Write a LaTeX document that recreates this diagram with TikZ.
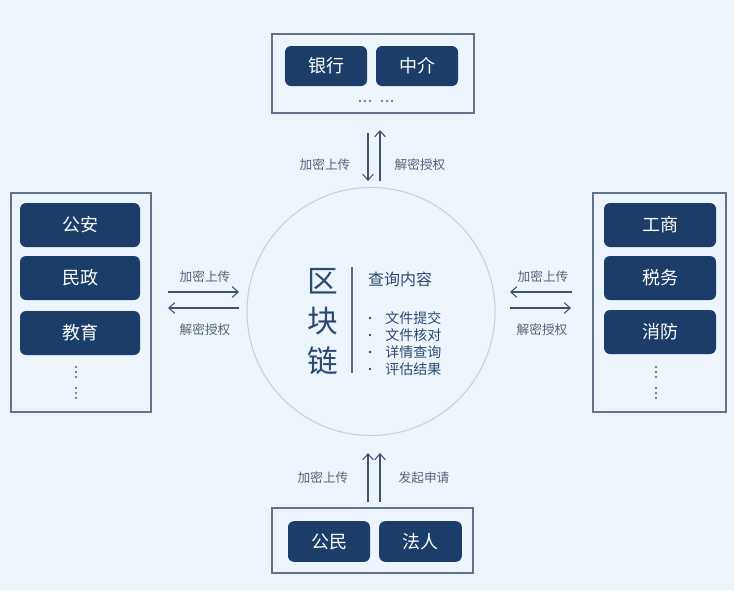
\documentclass[tikz,border=0pt]{standalone}
\usepackage{fontspec}
\setmainfont{Noto Sans CJK SC}
\usetikzlibrary{arrows.meta}
\definecolor{bgblue}{RGB}{238,244,251}
\definecolor{navy}{RGB}{26,61,105}
\definecolor{framegray}{RGB}{98,114,138}
\definecolor{arrowgray}{RGB}{62,82,112}
\definecolor{labelgray}{RGB}{84,100,124}
\definecolor{chainblue}{RGB}{42,74,114}
\definecolor{circlegray}{RGB}{202,207,216}

\tikzset{
  unit/.style={fill=navy, rounded corners=4.5pt, text=white, inner sep=0pt,
    font=\fontsize{13.5}{13.5}\selectfont},
  frame/.style={draw=framegray, line width=1.1pt},
  flow/.style={draw=arrowgray, line width=0.8pt, -{Straight Barb[length=4.5pt,width=8pt]}},
  tag/.style={text=labelgray, inner sep=0pt, font=\fontsize{9.5}{9.5}\selectfont},
  item/.style={text=chainblue, inner sep=0pt, anchor=west, font=\fontsize{10.5}{10.5}\selectfont},
  vdot/.style={fill=labelgray, draw=none},
}

\begin{document}
\begin{tikzpicture}[x=0.75pt,y=-0.75pt]
	\fill[bgblue] (0,0) rectangle (734,590);
	\useasboundingbox (0,0) rectangle (734,590);

	% top
	\draw[frame] (272,34) rectangle (474,113);
	\node[unit, minimum width=61.5pt, minimum height=30pt] (bank) at (326,66) {银行};
	\node[unit, minimum width=61.5pt, minimum height=30pt] (agency) at (417,66) {中介};
	\foreach \x in {360,365,370,382,387,392}
		\fill[vdot] (\x,101) circle (0.8pt);

	% left
	\draw[frame] (11,193) rectangle (151,412);
	\node[unit, minimum width=90pt, minimum height=33pt] (police) at (80,225) {公安};
	\node[unit, minimum width=90pt, minimum height=33pt] (civil) at (80,278) {民政};
	\node[unit, minimum width=90pt, minimum height=33pt] (edu) at (80,333) {教育};
	\foreach \y in {367,372,377,388,393,398}
		\fill[vdot] (76,\y) circle (0.9pt);

	% right
	\draw[frame] (593,193) rectangle (726,412);
	\node[unit, minimum width=84pt, minimum height=33pt] (biz) at (660,225) {工商};
	\node[unit, minimum width=84pt, minimum height=33pt] (tax) at (660,278) {税务};
	\node[unit, minimum width=84pt, minimum height=33pt] (fire) at (660,332) {消防};
	\foreach \y in {367,372,377,388,393,398}
		\fill[vdot] (656,\y) circle (0.9pt);

	% bottom
	\draw[frame] (272,508) rectangle (473,573);
	\node[unit, minimum width=61.5pt, minimum height=30.5pt] (citizen) at (329,541.5) {公民};
	\node[unit, minimum width=62pt, minimum height=30.5pt] (corp) at (420.5,541.5) {法人};

	% chain
	\node[circle, draw=circlegray, line width=0.8pt, minimum size=186pt, inner sep=0pt] (chain) at (371,311.5) {};
	\node[text=chainblue, font=\fontsize{23}{23}\selectfont] (qu) at (323,281) {区};
	\node[text=chainblue, font=\fontsize{23}{23}\selectfont] (kuai) at (323,321) {块};
	\node[text=chainblue, font=\fontsize{23}{23}\selectfont] (lian) at (323,361) {链};
	\coordinate (S) at (352,267);
	\coordinate (S') at (352,373);
	\draw[chainblue!80, line width=0.8pt] (S) -- (S');
	\node[text=chainblue, font=\fontsize{12}{12}\selectfont] (query) at (400,279) {查询内容};
	\foreach \t/\y in {文件提交/318,文件核对/335,详情查询/352,评估结果/369}{
		\fill[chainblue] (370,\y) circle (1.1pt);
		\node[item] at (385,\y) {\t};
	}

	% arrows
	\coordinate (T1) at (368,133);
	\coordinate (T1') at (368,181);
	\coordinate (T2) at (380,181);
	\coordinate (T2') at (380,130);
	\draw[flow] (T1) -- (T1');
	\draw[flow] (T2) -- (T2');
	\node[tag] (toplabel) at (325,165) {加密上传};
	\node[tag] (toprlabel) at (420,165) {解密授权};

	\coordinate (L1) at (168,292);
	\coordinate (L1') at (239,292);
	\coordinate (L2) at (239,308);
	\coordinate (L2') at (168,308);
	\draw[flow] (L1) -- (L1');
	\draw[flow] (L2) -- (L2');
	\node[tag] (leftlabel) at (205,277) {加密上传};
	\node[tag] (leftblabel) at (205,330) {解密授权};

	\coordinate (R1) at (572,292);
	\coordinate (R1') at (510,292);
	\coordinate (R2) at (510,308);
	\coordinate (R2') at (571,308);
	\draw[flow] (R1) -- (R1');
	\draw[flow] (R2) -- (R2');
	\node[tag] (rightlabel) at (543,277) {加密上传};
	\node[tag] (rightblabel) at (542,330) {解密授权};

	\coordinate (B1) at (368,502);
	\coordinate (B1') at (368,453);
	\coordinate (B2) at (380,502);
	\coordinate (B2') at (380,453);
	\draw[flow] (B1) -- (B1');
	\draw[flow] (B2) -- (B2');
	\node[tag] (botlabel) at (323,478) {加密上传};
	\node[tag] (botrlabel) at (424,478) {发起申请};
\end{tikzpicture}
\end{document}
